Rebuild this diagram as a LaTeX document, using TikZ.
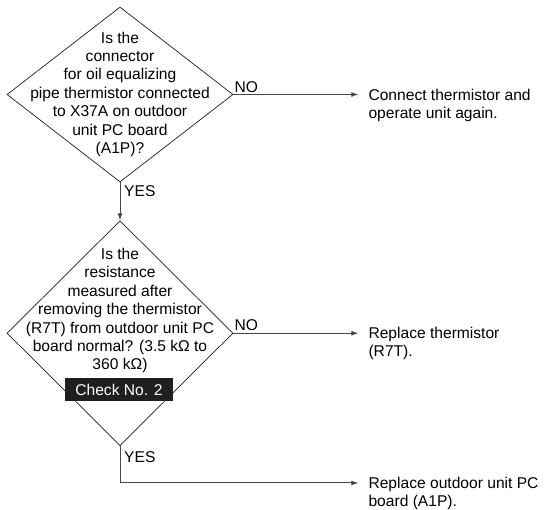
\documentclass[tikz,border=0pt]{standalone}
\usepackage{fontspec}
\setmainfont{Liberation Sans}
\usepackage{tikz}
\usetikzlibrary{shapes.geometric, arrows.meta, positioning}
\definecolor{linegray}{RGB}{70,70,70}
\definecolor{outlinegray}{RGB}{30,30,30}
\newcommand{\qfont}{\fontsize{15.6}{18.4}\selectfont}
\newcommand{\rfont}{\fontsize{15.6}{18}\selectfont}
\tikzset{
  decisionbox/.style={
    shape=diamond, draw=outlinegray, line width=0.7pt,
    minimum width=226pt, minimum height=175pt,
    inner sep=0pt
  },
  qtext/.style={
    align=center, font=\qfont,
    inner sep=0pt, anchor=north
  },
  resulttext/.style={
    align=left, font=\rfont,
    inner sep=0pt, anchor=north west
  },
  checkbox/.style={
    fill=black!88, text=white, font=\qfont,
    minimum width=108pt, minimum height=23pt,
    inner sep=0pt
  },
  flowlabel/.style={
    font=\qfont, inner sep=0pt
  },
  flowarrow/.style={
    -{Latex[length=7pt,width=5pt]},
    draw=linegray, line width=1pt
  },
}

\begin{document}
\begin{tikzpicture}[x=1pt, y=-1pt]

  \useasboundingbox (0,0) rectangle (544,510);

  %% First question
  \node[decisionbox] (q1) at (120,94.5) {};
  \node[qtext] (q1txt) at (120,31.5)
    {Is the\\connector\\for oil equalizing\\pipe thermistor connected\\to X37A on outdoor\\unit PC board\\(A1P)?};

  %% Second question
  \node[decisionbox, minimum height=225pt, below=38pt of q1] (q2) {};
  \node[qtext] (q2txt) at (120,248)
    {Is the\\resistance\\measured after\\removing the thermistor\\(R7T) from outdoor unit PC\\board normal? (3.5 kΩ to\\360 kΩ)};
  \node[checkbox] (chk) at (119,389.5) {Check No. 2};

  %% Arrow ends
  \coordinate[right=125pt of q1.east] (e1);
  \coordinate[right=125pt of q2.east] (e2);
  \coordinate (e3) at (e2 |- 0,483);

  %% Results
  \node[resulttext] (r1) at ([xshift=10pt, yshift=5.8pt]e1)
    {Connect thermistor and\\operate unit again.};
  \node[resulttext] (r2) at ([xshift=10pt, yshift=5.8pt]e2)
    {Replace thermistor\\(R7T).};
  \node[resulttext] (r3) at ([xshift=10pt, yshift=6.5pt]e3)
    {Replace outdoor unit PC\\board (A1P).};

  %% Connectors
  \draw[flowarrow] (q1.east) -- (e1);
  \draw[flowarrow] (q1.south) -- (q2.north);
  \draw[flowarrow] (q2.east) -- (e2);
  \draw[flowarrow] (q2.south) |- (e3);

  %% Labels
  \node[flowlabel, anchor=south west] (no1) at ([xshift=1pt, yshift=2pt]q1.east) {NO};
  \node[flowlabel, anchor=north west] (yes1) at ([xshift=4pt, yshift=-3.5pt]q1.south) {YES};
  \node[flowlabel, anchor=south west] (no2) at ([xshift=1pt, yshift=2pt]q2.east) {NO};
  \node[flowlabel, anchor=north west] (yes2) at ([xshift=4pt, yshift=-5pt]q2.south) {YES};

\end{tikzpicture}
\end{document}
